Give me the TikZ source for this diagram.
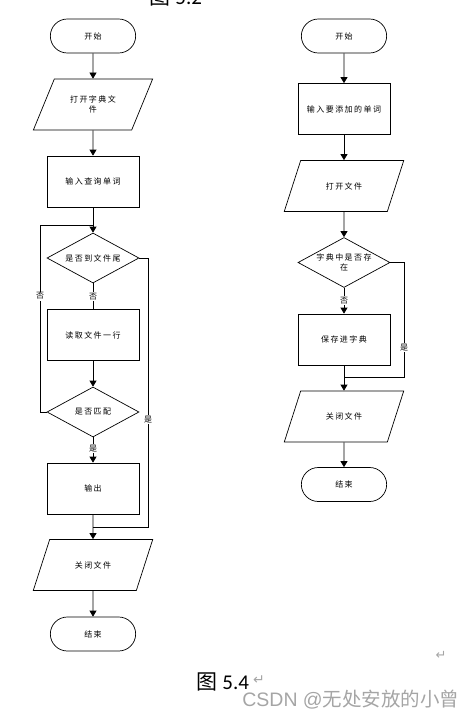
\documentclass[tikz,border=0pt]{standalone}
\usepackage{fontspec}
\setmainfont{Liberation Sans}
\newfontfamily\cjk[LetterSpace=18]{Noto Sans CJK SC}
\newfontfamily\cjkcap{Noto Sans CJK SC}
\newfontfamily\capfont{Carlito}
\newfontfamily\symfont{DejaVu Sans}
\usetikzlibrary{arrows.meta,shapes.geometric,shapes.misc}
\definecolor{wmgray}{RGB}{165,165,165}

\begin{document}
\begin{tikzpicture}[x=1pt,y=-1pt,
  line width=0.7pt, >={Triangle[length=6pt,width=7pt]},
  every node/.style={font=\cjk\fontsize{8}{10.5}\selectfont},
  term/.style={draw, rounded rectangle, minimum width=92pt, minimum height=34pt},
  proc/.style={draw, rectangle, minimum width=92pt, minimum height=51pt},
  io/.style={draw, trapezium, trapezium left angle=60, trapezium right angle=120,
    trapezium stretches=true, minimum width=120pt, minimum height=51pt, align=center},
  decision/.style={draw, diamond, aspect=1.84, minimum width=92pt, minimum height=50pt,
    inner sep=0pt, align=center},
  lab/.style={fill=white, inner sep=1pt}]
\clip (0,0) rectangle (466,716);

% titre coupé en haut
\node[anchor=base west, font=\cjkcap\fontsize{21}{24}\selectfont] (top) at (146,4) {图 {\capfont 5.2}};

% flux de gauche : recherche
\node[term] (s1) at (93,36) {开始};
\node[io] (a1) at (93,104.5) {打开字典文\\件};
\node[proc] (a2) at (93,181.5) {输入查询单词};
\node[decision] (a3) at (93,258) {是否到文件尾};
\node[proc] (a4) at (93,335) {读取文件一行};
\node[decision] (a5) at (93,412) {是否匹配};
\node[proc] (a6) at (93,488.5) {输出};
\node[io] (a7) at (93,565) {关闭文件};
\node[term] (e1) at (93,634) {结束};

\coordinate (j1) at (93,225);
\coordinate (l1) at (40,225);
\coordinate (r1) at (148,527);
\coordinate (j2) at (93,527);

\draw[->] (s1) -- (a1);
\draw[->] (a1) -- (a2);
\draw[->] (a2) -- (a3);
\draw (a3) -- node[lab] {否} (a4);
\draw[->] (a4) -- (a5);
\draw[->] (a5) -- node[lab, pos=0.45] {是} (a6);
\draw[->] (a6) -- (a7);
\draw[->] (a7) -- (e1);
% boucle de retour
\draw (a5.west) -| node[lab, pos=0.81] {否} (l1) -- (j1);
% sortie fin de fichier
\draw (a3.east) -| node[lab, pos=0.8] {是} (r1) -- (j2);

% flux de droite : ajout
\node[term] (s2) at (344,36) {开始};
\node[proc] (b1) at (344,109) {输入要添加的单词};
\node[io] (b2) at (344,186) {打开文件};
\node[decision] (b3) at (344,262.5) {字典中是否存\\在};
\node[proc] (b4) at (344,339.5) {保存进字典};
\node[io] (b5) at (344,416.5) {关闭文件};
\node[term] (e2) at (344,484.5) {结束};

\coordinate (r2) at (404,377);
\coordinate (j3) at (344,377);

\draw[->] (s2) -- (b1);
\draw[->] (b1) -- (b2);
\draw[->] (b2) -- (b3);
\draw[->] (b3) -- node[lab] {否} (b4);
\draw[->] (b4) -- (b5);
\draw[->] (b5) -- (e2);
\draw (b3.east) -| node[lab, pos=0.87] {是} (r2) -- (j3);

% légende et filigrane
\node[anchor=base west, font=\symfont\fontsize{13}{14}\selectfont, text=wmgray] (ret1) at (432,659) {↵};
\node[anchor=base west, font=\cjkcap\fontsize{21}{24}\selectfont] (cap) at (193,689) {图 {\capfont 5.4}};
\node[anchor=base west, inner sep=0pt, font=\symfont\fontsize{14}{16}\selectfont, text=wmgray] (ret2) at ([yshift=5pt]cap.base east) {↵};
\node[anchor=base west, inner sep=0pt, text=wmgray, font=\fontsize{19.5}{24}\selectfont] (wm) at (242,706) {CSDN @{\cjkcap 无处安放的小曾}};
\end{tikzpicture}
\end{document}
